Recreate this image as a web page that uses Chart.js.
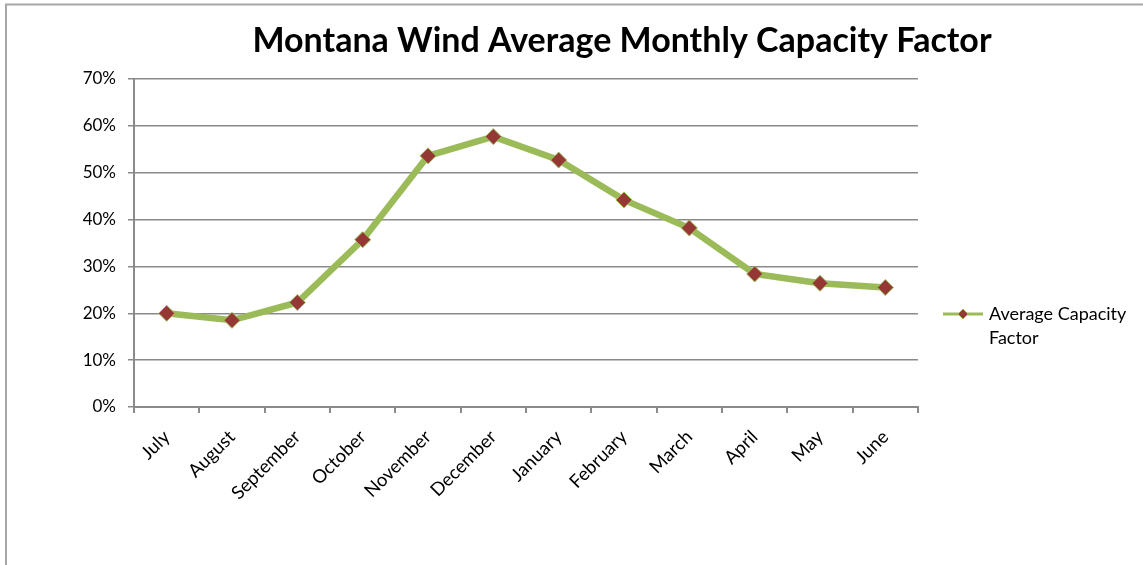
<!DOCTYPE html>
<html>
<head>
<meta charset="utf-8">
<script src="https://cdn.jsdelivr.net/npm/chart.js@4"></script>
<style>
html,body{margin:0;padding:0;background:#fff;}
#wrap{position:relative;width:1143px;height:565px;}
</style>
</head>
<body>
<div id="wrap"><canvas id="c" width="1143" height="565"></canvas></div>
<script>
const titleText = 'Montana Wind Average Monthly Capacity Factor';
const months = ['July','August','September','October','November','December','January','February','March','April','May','June'];
const capacityFactor = [20.0, 18.5, 22.3, 35.7, 53.6, 57.7, 52.7, 44.2, 38.2, 28.4, 26.4, 25.5];
const seriesName = 'Average Capacity Factor';
const legendLines = ['Average Capacity', 'Factor'];
const yTicks = [0,10,20,30,40,50,60,70];

const FONT = 'Lato, "Open Sans", sans-serif';
const LINE = '#9BBB59';
const MARK = '#953735';
const GRID = '#8a8a8a';

const framePlugin = {
  id: 'frame',
  afterDraw(chart) {
    const ctx = chart.ctx;
    ctx.save();
    ctx.strokeStyle = '#a6a6a6';
    ctx.lineWidth = 2;
    ctx.beginPath();
    ctx.moveTo(6, 600);
    ctx.lineTo(6, 4.5);
    ctx.lineTo(1200, 4.5);
    ctx.stroke();
    // title
    ctx.fillStyle = '#000';
    ctx.font = 'bold 34px ' + FONT;
    ctx.textAlign = 'center';
    ctx.textBaseline = 'middle';
    ctx.fillText(titleText, 622, 41);
    // legend
    const ly = 314;
    ctx.strokeStyle = LINE;
    ctx.lineWidth = 3;
    ctx.beginPath();
    ctx.moveTo(943, ly);
    ctx.lineTo(983, ly);
    ctx.stroke();
    ctx.fillStyle = MARK;
    ctx.strokeStyle = LINE;
    ctx.lineWidth = 1;
    const r = 5;
    ctx.beginPath();
    ctx.moveTo(963, ly - r);
    ctx.lineTo(963 + r, ly);
    ctx.lineTo(963, ly + r);
    ctx.lineTo(963 - r, ly);
    ctx.closePath();
    ctx.fill();
    ctx.stroke();
    ctx.fillStyle = '#000';
    ctx.font = '18px ' + FONT;
    ctx.textBaseline = 'middle';
    ctx.textAlign = 'left';
    legendLines.forEach((t, i) => ctx.fillText(t, 989, ly + i * 24));
    ctx.restore();
  }
};

new Chart(document.getElementById('c'), {
  type: 'line',
  data: {
    labels: months,
    datasets: [{
      label: seriesName,
      data: capacityFactor,
      borderColor: LINE,
      borderWidth: 6.5,
      backgroundColor: MARK,
      pointStyle: 'rectRot',
      pointRadius: 8,
      pointBorderColor: LINE,
      pointBorderWidth: 1,
      pointBackgroundColor: MARK,
      tension: 0,
      fill: false
    }]
  },
  options: {
    responsive: false,
    animation: false,
    layout: { padding: { left: 0, right: 225, top: 79, bottom: 0 } },
    plugins: {
      legend: { display: false },
      tooltip: { enabled: false },
      title: { display: false }
    },
    scales: {
      x: {
        type: 'category',
        offset: true,
        grid: {
          display: true,
          offset: true,
          drawOnChartArea: false,
          drawTicks: true,
          tickLength: 6,
          color: GRID,
          lineWidth: 2
        },
        border: { display: true, color: GRID, width: 2 },
        ticks: {
          color: '#000',
          font: { family: FONT, size: 18.5 },
          minRotation: 45,
          maxRotation: 45,
          padding: 13,
          autoSkip: false
        },
        afterFit(scale) { scale.height = 565 - 407; }
      },
      y: {
        min: 0,
        max: 70,
        afterBuildTicks(scale) { scale.ticks = yTicks.map(v => ({ value: v })); },
        grid: {
          color: GRID,
          lineWidth: 1.5,
          drawTicks: true,
          tickLength: 6
        },
        border: { display: true, color: GRID, width: 2 },
        ticks: {
          color: '#000',
          font: { family: FONT, size: 17 },
          padding: 12,
          callback: v => v + '%'
        },
        afterFit(scale) { scale.width = 134; }
      }
    }
  },
  plugins: [framePlugin]
});
</script>
</body>
</html>
